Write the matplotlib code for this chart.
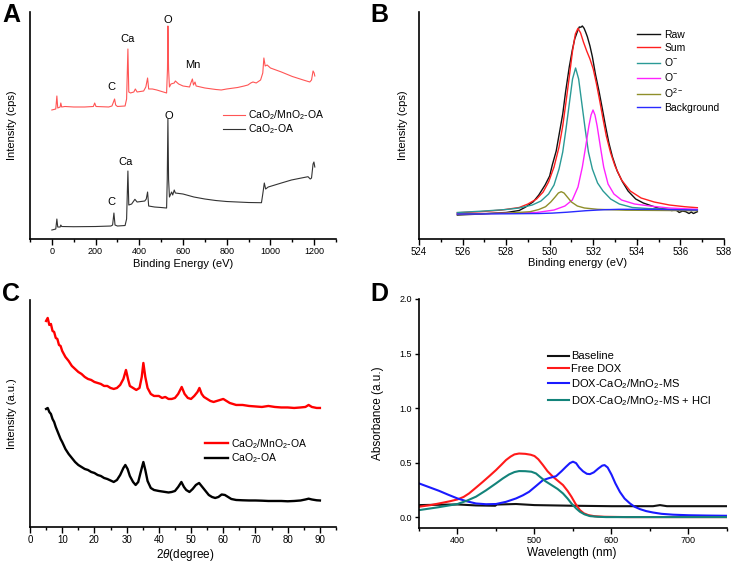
import numpy as np
import matplotlib
matplotlib.use('Agg')
import matplotlib.pyplot as plt
from matplotlib.ticker import MultipleLocator, NullLocator, FormatStrFormatter

plt.rcParams['font.family'] = ['Liberation Sans', 'DejaVu Sans']
plt.rcParams['mathtext.fontset'] = 'custom'
plt.rcParams['mathtext.rm'] = 'Liberation Sans'
plt.rcParams['mathtext.it'] = 'Liberation Sans:italic'
plt.rcParams['mathtext.bf'] = 'Liberation Sans:bold'

# ---------------- A : XPS survey ----------------
a_red_e = [0, 18, 23, 27, 38, 41, 45, 60, 100, 150, 190, 196, 202, 260, 275, 282, 287, 292, 300,
           335, 342, 348, 352, 360, 375, 382, 390, 420, 430, 438, 443, 460, 480, 510, 525, 529, 531,
           534, 538, 545, 560, 565, 580, 600, 630, 636, 643, 648, 655, 660, 700, 750, 775, 800, 850,
           880, 897, 910, 920, 935, 955, 965, 970, 976, 985, 1000, 1050, 1100, 1150, 1180, 1188,
           1195, 1200, 1203]
a_red_i = [129, 130, 143, 131, 132, 136, 132, 132.5, 132, 132, 132.5, 136, 132.5, 132, 133, 137, 140,
           134, 132.5, 133, 140, 190, 147, 146, 147, 150, 147, 148, 152, 161, 150, 150, 149, 147, 146,
           170, 213, 170, 152, 155, 156, 158, 155, 153, 152, 156, 160, 154, 157, 153, 151, 149.5, 149,
           150, 151.5, 153, 154, 156, 157, 156, 159, 166, 181, 173, 174, 171, 167, 162.5, 159, 157,
           159, 168, 166, 163]
a_blk_e = [0, 18, 23, 27, 38, 41, 45, 100, 200, 270, 278, 284, 289, 300, 335, 342, 348, 352, 365, 380,
           390, 425, 432, 438, 443, 470, 500, 525, 528, 531, 534, 538, 548, 553, 560, 565, 600, 650,
           700, 750, 800, 850, 900, 959, 965, 972, 978, 990, 1020, 1050, 1096, 1130, 1172, 1182, 1188,
           1195, 1199, 1203]
a_blk_i = [9, 10, 20, 12, 12, 14, 12.5, 12.3, 12.5, 13, 14, 26, 14, 13, 13.5, 20, 68, 34, 35, 39.7, 37,
           38, 40, 47, 33, 32, 31.5, 31, 60, 120, 60, 42, 47, 44, 49, 46, 45, 42, 40, 38.5, 37.5, 37,
           36.5, 36.3, 45, 56, 50, 52, 54, 56, 59, 60.5, 62.3, 60, 61, 75, 77, 72]
a_labels = ['O', 'Ca', 'Mn', 'C', 'O', 'Ca', 'C']
a_label_e = [531, 345, 647, 272, 537, 336, 272]
a_label_i = [219, 200, 174, 152, 123, 77, 37]

# ---------------- B : O 1s ----------------
b_raw_e = [525.76, 526.3, 526.9, 527.5, 528.0, 528.3, 528.6, 528.9, 529.25, 529.5, 529.79, 530.0,
           530.12, 530.3, 530.43, 530.6, 530.73, 530.9, 531.04, 531.15, 531.27, 531.36, 531.43, 531.5,
           531.58, 531.65, 531.73, 531.85, 531.96, 532.1, 532.27, 532.42, 532.57, 532.72, 532.88,
           533.1, 533.34, 533.6, 533.95, 534.3, 534.7, 535.02, 535.3, 535.6, 535.8, 535.95, 536.1,
           536.25, 536.4, 536.5, 536.6, 536.78]
b_raw_i = [24, 24.5, 25, 26, 26.5, 27.5, 28.5, 32, 37.3, 44, 54, 63, 74, 88, 104, 125, 147, 172, 189,
           200, 207.3, 212, 211.7, 213, 210.7, 207, 202.3, 193, 182.3, 165, 147.3, 130, 112.3, 96,
           82.3, 68, 57.3, 48, 40, 36, 33, 30.7, 30, 28.5, 29, 26.5, 28, 27.3, 25.5, 27, 25.5, 27.3]
b_sum_e = [525.76, 526.8, 527.8, 528.6, 529.0, 529.4, 529.7, 529.95, 530.2, 530.43, 530.6, 530.75,
           530.9, 531.05, 531.18, 531.3, 531.42, 531.55, 531.7, 531.85, 532.0, 532.15, 532.3, 532.45,
           532.6, 532.8, 533.0, 533.3, 533.7, 534.2, 534.8, 535.5, 536.2, 536.78]
b_sum_i = [26.3, 27.3, 29, 31.5, 35, 40, 47, 57, 72, 92, 113, 137, 162, 188, 205, 210.7, 206, 197, 188,
           180, 170, 155, 138, 120, 103, 86, 73, 59, 48, 41, 37, 34, 32.3, 31.3]
b_o1_e = [525.76, 527.0, 528.0, 528.6, 529.2, 529.6, 529.95, 530.2, 530.43, 530.6, 530.75, 530.9,
          531.05, 531.19, 531.33, 531.48, 531.63, 531.78, 531.96, 532.2, 532.45, 532.8, 533.2, 533.8,
          534.5, 535.5, 536.78]
b_o1_i = [26.5, 28, 29.5, 31, 34, 38, 45, 54, 70, 87, 110, 135, 160, 171, 160, 135, 110, 87, 70, 56,
          48, 40, 35, 31.5, 30.5, 29.8, 29]
b_o2_e = [525.76, 528.0, 529.4, 530.2, 530.7, 531.04, 531.3, 531.5, 531.65, 531.8, 531.9, 531.99,
          532.08, 532.18, 532.33, 532.48, 532.68, 532.95, 533.3, 533.9, 534.6, 535.5, 536.78]
b_o2_i = [25, 25.8, 26.5, 29, 33, 39, 52, 72, 92, 113, 124, 129, 124, 113, 92, 72, 55, 45, 39, 35, 33,
          31, 29.7]
b_o3_e = [525.76, 528.0, 529.1, 529.5, 529.81, 530.05, 530.25, 530.4, 530.53, 530.66, 530.81, 531.0,
          531.27, 531.6, 532.2, 533.5, 536.78]
b_o3_i = [25, 25.8, 27.3, 29.5, 32.3, 37, 42, 46, 47.3, 46, 42, 37, 33, 31, 29.7, 28.8, 28.3]
b_bg_e = [525.76, 528.0, 529.5, 530.12, 530.8, 531.66, 532.5, 533.18, 535.0, 536.78]
b_bg_i = [25, 25.2, 25.5, 25.9, 26.8, 28.3, 29.3, 29.7, 29.6, 29]

# ---------------- C : XRD ----------------
c_red_x = [5, 5.5, 6, 6.5, 7, 7.5, 8, 8.5, 9, 9.5, 10, 11, 12, 13, 14, 15, 16, 17, 18, 19, 20, 21, 22,
           23, 24, 25, 26, 27, 28, 29, 29.8, 30.5, 31, 32, 33, 34, 34.7, 35.2, 35.8, 36.5, 37.5, 38.5,
           40, 41, 42, 43, 44, 45, 46, 47.1, 48, 49, 50, 51, 52, 52.6, 53.3, 54, 55, 56, 57, 58, 59,
           60, 61, 62, 64, 66, 68, 70, 72, 74, 76, 78, 80, 82, 84, 85.5, 86.5, 87.5, 89, 90]
c_red_i = [206, 209, 202, 203, 196, 195, 189, 188, 182, 181, 176, 170, 166, 161, 158, 155, 153, 150,
           148, 147, 145, 144, 143, 141, 141, 139, 138, 139, 142, 148, 157, 147, 141, 139, 137, 139,
           150, 164, 150, 139, 133, 131, 131, 129, 130, 128, 128, 129, 133, 140, 133, 129, 128, 131,
           135, 139, 133, 130, 128, 126, 125, 126, 127, 128, 126, 124, 122, 122, 121, 120.5, 120, 121,
           120, 119.5, 119.5, 119, 119.5, 120, 122, 120, 119, 119]
c_blk_x = [5, 5.5, 6, 6.5, 7, 7.5, 8, 8.5, 9, 9.5, 10, 11, 12, 13, 14, 15, 16, 17, 18, 19, 20, 21, 22,
           23, 24, 25, 26, 27, 28, 29, 29.6, 30.3, 31, 32, 32.8, 33.6, 34.3, 35.2, 35.8, 36.5, 37.5,
           38.5, 40, 41, 42, 43, 44, 45, 46, 47, 47.8, 48.5, 49.5, 50.5, 51.5, 52.5, 53.5, 54.5, 55.5,
           56.5, 57.5, 58.5, 59.5, 60.5, 61.5, 62.5, 64, 66, 68, 70, 72, 74, 76, 78, 80, 82, 84, 85.5,
           86.5, 87.5, 89, 90]
c_blk_i = [118, 119, 115, 113, 108, 105, 100, 96, 92, 88, 85, 78, 73, 69, 65, 62, 60, 58, 57, 55, 54,
           52, 51, 49, 48, 46.5, 45, 47, 52, 59, 62, 58, 51, 45, 42, 45, 54, 65, 57, 46, 39, 37, 36,
           35.5, 35, 34.5, 35, 36, 40, 45, 40, 37, 35, 38, 42, 44, 40, 36, 32, 30, 29, 30, 32.5, 32,
           30, 28, 27, 26.7, 26.5, 26.5, 26.3, 26, 26, 26, 25.7, 26, 26.5, 27.5, 28.3, 27.5, 26.7, 26.5]

# ---------------- D : UV-vis ----------------
d_base_x = [350, 400, 424, 449, 451, 476, 500, 550, 600, 654, 663, 672, 700, 750]
d_base_y = [0.11, 0.116, 0.107, 0.104, 0.115, 0.12, 0.11, 0.104, 0.1, 0.1, 0.11, 0.1, 0.1, 0.1]
d_free_x = [350, 365, 376, 390, 400, 408, 415, 424, 433, 442, 450, 457, 463, 469, 474, 480, 488, 495,
            500, 505, 511, 517, 524, 530, 537, 543, 548, 553, 559, 564, 570, 578, 590, 620, 750]
d_free_y = [0.095, 0.11, 0.125, 0.145, 0.162, 0.185, 0.217, 0.27, 0.324, 0.38, 0.431, 0.48, 0.523,
            0.555, 0.575, 0.583, 0.58, 0.572, 0.56, 0.53, 0.477, 0.42, 0.37, 0.335, 0.294, 0.24,
            0.187, 0.125, 0.064, 0.035, 0.018, 0.008, 0.003, 0.0, 0.0]
d_ms_x = [350, 363, 376, 388, 400, 412, 424, 437, 450, 463, 476, 485, 493, 502, 511, 520, 528, 535,
          541, 546, 550, 554, 558, 563, 568, 572, 577, 583, 588, 591, 595, 600, 605, 611, 617, 624,
          630, 637, 645, 654, 665, 680, 700, 725, 750]
d_ms_y = [0.309, 0.275, 0.241, 0.205, 0.171, 0.145, 0.125, 0.118, 0.12, 0.14, 0.171, 0.2, 0.232, 0.285,
          0.339, 0.36, 0.375, 0.42, 0.462, 0.495, 0.508, 0.495, 0.455, 0.42, 0.397, 0.394, 0.41, 0.446,
          0.472, 0.477, 0.455, 0.39, 0.31, 0.23, 0.17, 0.125, 0.095, 0.073, 0.055, 0.042, 0.03, 0.022,
          0.017, 0.014, 0.012]
d_hcl_x = [350, 375, 400, 412, 424, 437, 450, 459, 467, 474, 480, 488, 496, 502, 507, 514, 522, 530,
           537, 543, 548, 554, 559, 565, 572, 582, 593, 750]
d_hcl_y = [0.064, 0.09, 0.12, 0.15, 0.187, 0.245, 0.309, 0.355, 0.391, 0.413, 0.422, 0.421, 0.416,
           0.4, 0.37, 0.33, 0.294, 0.258, 0.217, 0.17, 0.125, 0.08, 0.049, 0.025, 0.009, 0.003, 0.0, 0.0]

fig = plt.figure(figsize=(7.33, 5.62), dpi=100)


def style_axes(ax, tick_size):
    ax.spines['top'].set_visible(False)
    ax.spines['right'].set_visible(False)
    ax.spines['left'].set_linewidth(1.2)
    ax.spines['bottom'].set_linewidth(1.2)
    ax.tick_params(axis='x', which='major', direction='out', length=4, width=1, labelsize=tick_size, pad=2)
    ax.tick_params(axis='x', which='minor', direction='out', length=2.5, width=1)


# A
axA = fig.add_axes([0.0409, 0.5747, 0.4175, 0.404])
axA.plot(a_red_e, a_red_i, color='#ff5555', lw=0.8, label=r'CaO$_2$/MnO$_2$-OA')
axA.plot(a_blk_e, a_blk_i, color='#333333', lw=0.8, label=r'CaO$_2$-OA')
for t, e, i in zip(a_labels, a_label_e, a_label_i):
    axA.text(e, i, t, ha='center', va='center', fontsize=8)
axA.set_xlim(-100, 1300)
axA.set_ylim(0, 227)
axA.xaxis.set_major_locator(MultipleLocator(200))
axA.xaxis.set_minor_locator(MultipleLocator(100))
axA.yaxis.set_major_locator(NullLocator())
style_axes(axA, 6.5)
axA.set_xlabel('Binding Energy (eV)', fontsize=8)
axA.set_ylabel('Intensity (cps)', fontsize=8)
axA.xaxis.set_label_coords(0.5, -0.09)
axA.yaxis.set_label_coords(-0.041, 0.5)
axA.legend(loc='upper left', bbox_to_anchor=(0.614, 0.598), frameon=False, fontsize=7.5,
           borderpad=0, handlelength=2.1, handletextpad=0.3, labelspacing=0.0)

# B
axB = fig.add_axes([0.5716, 0.5747, 0.416, 0.404])
axB.plot(b_raw_e, b_raw_i, color='#111111', lw=1, label='Raw')
axB.plot(b_sum_e, b_sum_i, color='#ff2020', lw=1, label='Sum')
axB.plot(b_o1_e, b_o1_i, color='#2a9a96', lw=1, label=r'O$^{-}$')
axB.plot(b_o2_e, b_o2_i, color='#ff22ff', lw=1, label=r'O$^{-}$')
axB.plot(b_o3_e, b_o3_i, color='#8f8f2a', lw=1, label=r'O$^{2-}$')
axB.plot(b_bg_e, b_bg_i, color='#2a2aff', lw=1, label='Background')
axB.set_xlim(524, 538)
axB.set_ylim(0, 227)
axB.xaxis.set_major_locator(MultipleLocator(2))
axB.xaxis.set_minor_locator(MultipleLocator(1))
axB.yaxis.set_major_locator(NullLocator())
style_axes(axB, 7)
axB.set_xlabel('Binding energy (eV)', fontsize=8)
axB.set_ylabel('Intensity (cps)', fontsize=8)
axB.xaxis.set_label_coords(0.52, -0.084)
axB.yaxis.set_label_coords(-0.037, 0.5)
axB.legend(loc='upper left', bbox_to_anchor=(0.699, 0.943), frameon=False, fontsize=7.5,
           borderpad=0, handlelength=2.2, handletextpad=0.4, labelspacing=0.29)

# C
axC = fig.add_axes([0.0409, 0.0623, 0.4175, 0.404])
axC.plot(c_red_x, c_red_i, color='#ff0000', lw=1.7, label=r'CaO$_2$/MnO$_2$-OA')
axC.plot(c_blk_x, c_blk_i, color='#000000', lw=1.7, label=r'CaO$_2$-OA')
axC.set_xlim(0, 95)
axC.set_ylim(0, 227)
axC.xaxis.set_major_locator(MultipleLocator(10))
axC.xaxis.set_minor_locator(MultipleLocator(5))
axC.yaxis.set_major_locator(NullLocator())
style_axes(axC, 7)
axC.set_xlabel(r'2$\theta$(degree)', fontsize=8.5)
axC.set_ylabel('Intensity (a.u.)', fontsize=8)
axC.xaxis.set_label_coords(0.506, -0.09)
axC.yaxis.set_label_coords(-0.041, 0.5)
axC.legend(loc='upper left', bbox_to_anchor=(0.556, 0.419), frameon=False, fontsize=7.5,
           borderpad=0, handlelength=2.2, handletextpad=0.3, labelspacing=0.05)

# D
axD = fig.add_axes([0.5716, 0.0605, 0.4202, 0.4075])
axD.plot(d_base_x, d_base_y, color='#111111', lw=1.5, label='Baseline')
axD.plot(d_free_x, d_free_y, color='#ff1a1a', lw=1.5, label='Free DOX')
axD.plot(d_ms_x, d_ms_y, color='#1a1aff', lw=1.5, label=r'DOX-CaO$_2$/MnO$_2$-MS')
axD.plot(d_hcl_x, d_hcl_y, color='#13837a', lw=1.5, label=r'DOX-CaO$_2$/MnO$_2$-MS + HCl')
axD.set_xlim(350, 750)
axD.set_ylim(-0.1, 2.0)
axD.xaxis.set_major_locator(MultipleLocator(100))
axD.xaxis.set_minor_locator(MultipleLocator(50))
axD.yaxis.set_major_locator(MultipleLocator(0.5))
axD.yaxis.set_major_formatter(FormatStrFormatter('%.1f'))
style_axes(axD, 6.5)
axD.tick_params(axis='y', direction='out', length=3, width=1, labelsize=6.5, pad=2)
axD.set_xlabel('Wavelength (nm)', fontsize=8.5)
axD.set_ylabel('Absorbance (a.u.)', fontsize=8.5)
axD.xaxis.set_label_coords(0.497, -0.083)
axD.yaxis.set_label_coords(-0.115, 0.5)
axD.legend(loc='upper left', bbox_to_anchor=(0.4, 0.795), frameon=False, fontsize=8,
           borderpad=0, handlelength=1.9, handletextpad=0.2, labelspacing=0.26)

# panel letters
for t, x, y in [('A', 0.003, 0.995), ('B', 0.505, 0.995), ('C', 0.003, 0.498), ('D', 0.505, 0.498)]:
    fig.text(x, y, t, fontsize=18, fontweight='bold', ha='left', va='top')

fig.savefig('out.png', dpi=100)
